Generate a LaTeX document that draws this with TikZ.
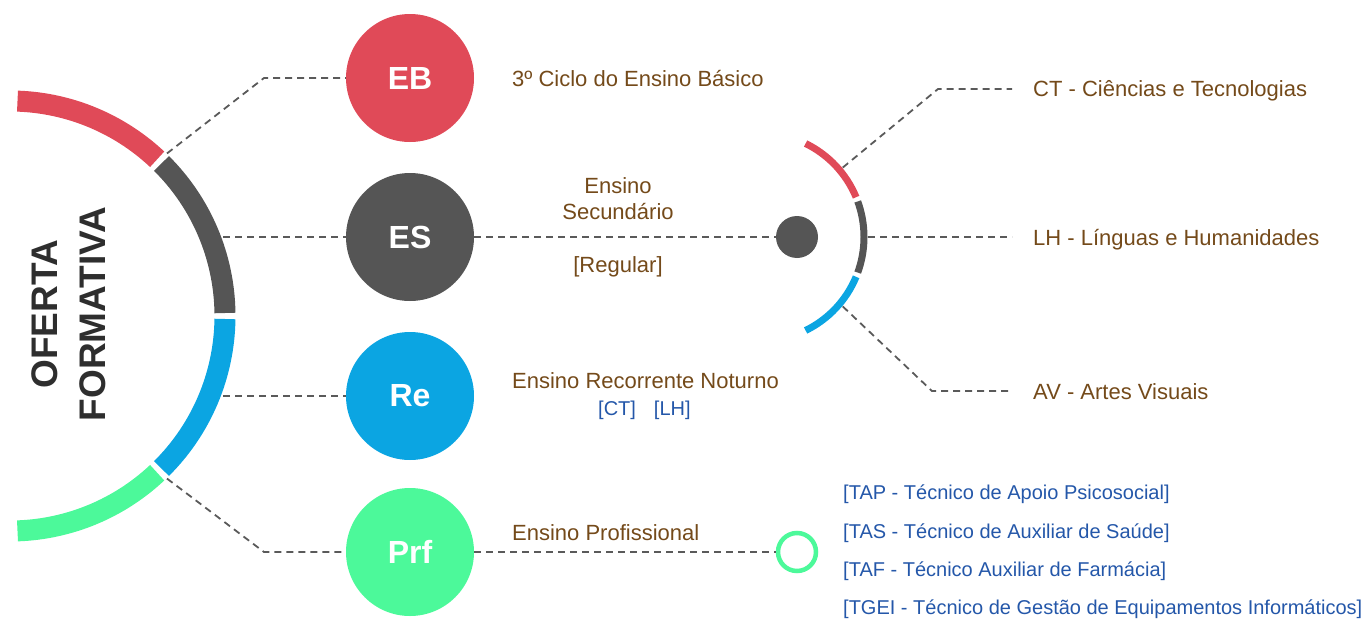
\documentclass[tikz,border=0pt]{standalone}
\usepackage{fontspec}
\setmainfont{Liberation Sans}
\usetikzlibrary{calc}
\definecolor{cred}{HTML}{E04A58}
\definecolor{cgray}{HTML}{555555}
\definecolor{cblue}{HTML}{0BA5E2}
\definecolor{cgreen}{HTML}{4CF99A}
\definecolor{cbrown}{HTML}{744A1A}
\definecolor{cbluetext}{HTML}{2457A9}
\definecolor{ctitle}{HTML}{2E2E2E}
\definecolor{cdash}{HTML}{5A5A5A}
\begin{document}
\begin{tikzpicture}[x=1pt,y=-1pt,
  dashline/.style={draw=cdash,line width=1.8pt,dash pattern=on 7pt off 5pt},
  bigcirc/.style={circle,inner sep=0pt,minimum size=128pt,text=white,font=\bfseries\fontsize{32}{32}\selectfont},
  brown/.style={inner sep=0pt,text=cbrown,font=\fontsize{22}{26}\selectfont},
  bluet/.style={inner sep=0pt,text=cbluetext,font=\fontsize{20}{24}\selectfont},
  bigarc/.style={line width=21pt,line cap=butt},
  smallarc/.style={line width=7pt,line cap=butt}]
\useasboundingbox (0,0) rectangle (1363,621);
% big arc
\coordinate (bigc) at (10,316);
\draw[bigarc,cred]   ($(bigc)+(-88:215)$) arc[start angle=-88,end angle=-46.8,radius=215];
\draw[bigarc,cgray]  ($(bigc)+(-45.2:215)$) arc[start angle=-45.2,end angle=-0.8,radius=215];
\draw[bigarc,cblue]  ($(bigc)+(0.8:215)$) arc[start angle=0.8,end angle=45.2,radius=215];
\draw[bigarc,cgreen] ($(bigc)+(46.8:215)$) arc[start angle=46.8,end angle=88,radius=215];
% title
\node[rotate=90,align=center,text=ctitle,font=\bfseries\fontsize{37}{48}\selectfont] (title) at (69,314) {OFERTA\\FORMATIVA};
% circles
\node[bigcirc,fill=cred]   (EB)  at (410,78)  {EB};
\node[bigcirc,fill=cgray]  (ES)  at (410,237) {ES};
\node[bigcirc,fill=cblue]  (Re)  at (410,396) {Re};
\node[bigcirc,fill=cgreen] (Prf) at (410,552) {Prf};
% connectors from big arc
\coordinate (a1) at ($(bigc)+(-46:226)$);
\coordinate (k1) at (264,78);
\coordinate (a2) at (223,237);
\coordinate (a3) at (223,396);
\coordinate (a4) at ($(bigc)+(46:226)$);
\coordinate (k4) at (264,552);
\draw[dashline] (a1) -- (k1) -- (EB);
\draw[dashline] (a2) -- (ES);
\draw[dashline] (a3) -- (Re);
\draw[dashline] (a4) -- (k4) -- (Prf);
% dot and ring
\node[circle,fill=cgray,inner sep=0pt,minimum size=42pt] (dot) at (797,237) {};
\node[circle,draw=cgreen,line width=4.5pt,fill=white,inner sep=0pt,minimum size=38pt] (ring) at (797,552) {};
\draw[dashline] (ES) -- (dot);
\draw[dashline] (Prf) -- (ring);
% small arc
\coordinate (sc) at (760,237);
\draw[smallarc,cred]  ($(sc)+(-64:104)$) arc[start angle=-64,end angle=-22.5,radius=104];
\draw[smallarc,cgray] ($(sc)+(-20:104)$) arc[start angle=-20,end angle=20,radius=104];
\draw[smallarc,cblue] ($(sc)+(22.5:104)$) arc[start angle=22.5,end angle=64,radius=104];
\coordinate (s1) at ($(sc)+(-40:108)$);
\coordinate (k5) at (938,89);
\coordinate (e5) at (1012,89);
\coordinate (s2) at (868,237);
\coordinate (e6) at (1012,237);
\coordinate (s3) at ($(sc)+(40:108)$);
\coordinate (k7) at (932,391);
\coordinate (e7) at (1012,391);
\draw[dashline] (s1) -- (k5) -- (e5);
\draw[dashline] (s2) -- (e6);
\draw[dashline] (s3) -- (k7) -- (e7);
% texts
\node[brown,anchor=base west] (t1) at (512,86) {3º Ciclo do Ensino Básico};
\node[brown,anchor=base] (t2) at (618,193) {Ensino};
\node[brown,anchor=base] (t3) at (618,219) {Secundário};
\node[brown,anchor=base] (t4) at (618,272) {[Regular]};
\node[brown,anchor=base west] (t5) at (512,388) {Ensino Recorrente Noturno};
\node[bluet,anchor=base west] (t6) at (598,415) {[CT]\hspace{18pt}[LH]};
\node[brown,anchor=base west] (t7) at (512,540) {Ensino Profissional};
\node[brown,anchor=base west] (t8) at (1033,96) {CT - Ciências e Tecnologias};
\node[brown,anchor=base west] (t9) at (1033,245) {LH - Línguas e Humanidades};
\node[brown,anchor=base west] (t10) at (1033,399) {AV - Artes Visuais};
\node[bluet,anchor=base west] (p1) at (843,499) {[TAP - Técnico de Apoio Psicosocial]};
\node[bluet,anchor=base west] (p2) at (843,538) {[TAS - Técnico de Auxiliar de Saúde]};
\node[bluet,anchor=base west] (p3) at (843,576) {[TAF - Técnico Auxiliar de Farmácia]};
\node[bluet,anchor=base west] (p4) at (843,614) {[TGEI - Técnico de Gestão de Equipamentos Informáticos]};
\end{tikzpicture}
\end{document}
